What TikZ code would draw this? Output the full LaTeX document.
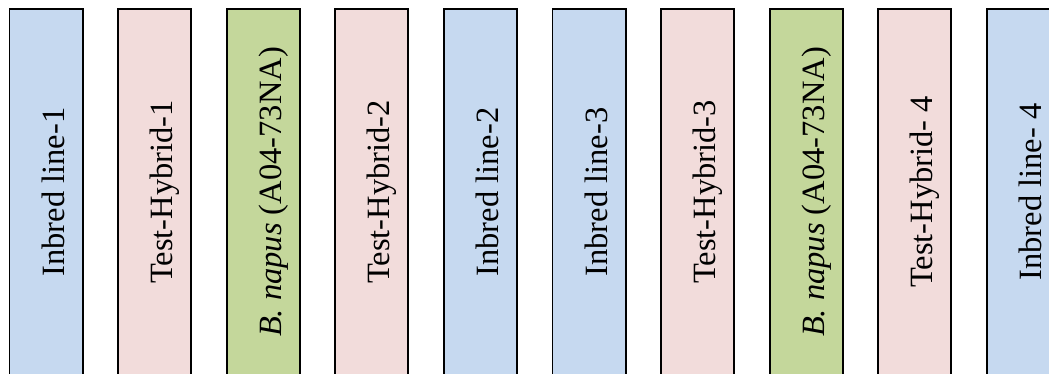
\documentclass[tikz,border=0pt]{standalone}
\usepackage{fontspec}
\setmainfont{Liberation Serif}
\definecolor{inbblue}{RGB}{198,217,240}
\definecolor{hybpink}{RGB}{242,220,219}
\definecolor{napgreen}{RGB}{196,215,155}
\begin{document}
\begin{tikzpicture}[x=1pt,y=1pt,
  stripbox/.style={draw=black, line width=1.9pt, rectangle, minimum width=73.1pt, minimum height=383.1pt, inner sep=0pt},
  striptext/.style={rotate=90, anchor=base, inner sep=0pt, font=\fontsize{32.5}{36}\selectfont}]
\useasboundingbox (0,0) rectangle (1049,373);
\clip (0,0) rectangle (1049,373);
\foreach \i/\col/\txt in {0/inbblue/{Inbred line-1},
                          1/hybpink/{Test-Hybrid-1},
                          2/napgreen/{\textit{B. napus} (A04-73NA)},
                          3/hybpink/{Test-Hybrid-2},
                          4/inbblue/{Inbred line-2},
                          5/inbblue/{Inbred line-3},
                          6/hybpink/{Test-Hybrid-3},
                          7/napgreen/{\textit{B. napus} (A04-73NA)},
                          8/hybpink/{Test-Hybrid- 4},
                          9/inbblue/{Inbred line- 4}}{
  \pgfmathsetmacro{\L}{8.5+108.6*\i}
  \node[stripbox, fill=\col] (box\i) at (\L+37.5, 172.5) {};
  \node[striptext] (txt\i) at (\L+55.5, 181) {\txt};
}
\end{tikzpicture}
\end{document}
